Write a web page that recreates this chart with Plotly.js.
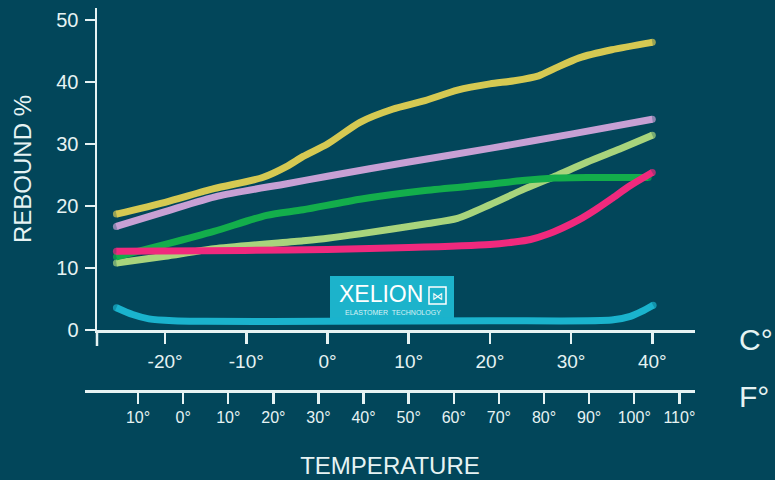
<!DOCTYPE html>
<html><head><meta charset="utf-8">
<script src="https://cdn.plot.ly/plotly-3.0.1.min.js"></script>
<style>html,body{margin:0;padding:0;background:#02465a}#chart{width:775px;height:480px}</style>
</head><body><div id="chart"></div>
<script>
// ---- data (temperature in °C, rebound in %) ----
const lightGreenTemp = [-26, -20, -14, -3, 0, 4, 12, 16, 20, 24, 28, 32, 36, 40];
const lightGreenRebound = [10.8, 11.9, 13.1, 14.4, 14.8, 15.5, 17.1, 18.0, 20.2, 22.6, 24.8, 27.1, 29.2, 31.4];

const greenTemp = [-26, -20, -14, -7.5, -3, 4, 12, 20, 24, 28, 32, 36, 39.5];
const greenRebound = [11.8, 13.8, 15.9, 18.5, 19.4, 21.1, 22.5, 23.5, 24.1, 24.5, 24.6, 24.6, 24.6];

const purpleTemp = [-26, -20, -13.5, -5, 0, 10, 20, 30, 40];
const purpleRebound = [16.7, 19.1, 21.6, 23.6, 24.8, 27.1, 29.3, 31.6, 34.0];

const yellowTemp = [-26, -20, -14, -8, -5, -3, 0, 4, 8, 12, 16, 20, 23, 26, 28, 31, 35, 40];
const yellowRebound = [18.7, 20.6, 22.8, 24.6, 26.4, 28.0, 30.0, 33.5, 35.6, 37.0, 38.7, 39.7, 40.2, 41.0, 42.2, 43.9, 45.2, 46.4];

const pinkTemp = [-26, -15, -5, 0, 10, 20, 23, 25, 27, 29, 31, 33, 35, 37.3, 40];
const pinkRebound = [12.7, 12.8, 12.9, 13.0, 13.3, 13.8, 14.2, 14.6, 15.4, 16.5, 17.8, 19.4, 21.2, 23.3, 25.4];

const cyanTemp = [-26, -24, -22, -19, -15, 0, 20, 35, 37.3, 38.7, 40.1];
const cyanRebound = [3.6, 2.5, 1.8, 1.5, 1.4, 1.4, 1.5, 1.6, 2.2, 3.0, 4.0];

const reboundTicks = [0, 10, 20, 30, 40, 50];
const reboundTickText = ['0', '10', '20', '30', '40', '50'];
const celsiusTicks = [-20, -10, 0, 10, 20, 30, 40];
const celsiusTickText = ['-20°', '-10°', '0°', '10°', '20°', '30°', '40°'];
const fahrenheitTicks = [-10, 0, 10, 20, 30, 40, 50, 60, 70, 80, 90, 100, 110];
const fahrenheitTickText = ['10°', '0°', '10°', '20°', '30°', '40°', '50°', '60°', '70°', '80°', '90°', '100°', '110°'];

// ---- layout geometry ----
const L = 85, R = 80, T = 8, B = 89, WIDTH = 775, HEIGHT = 480;
const W = WIDTH - L - R, H = HEIGHT - T - B;
const px = p => (p - L) / W;
const py = p => (HEIGHT - B - p) / H;

const bg = '#02465a';
const ink = '#e6f3f3';
const FONT = 'Liberation Sans, Arial, Helvetica, sans-serif';

function series(x, y, color) {
  const n = x.length;
  return {
    x: x, y: y, xaxis: 'x', yaxis: 'y', type: 'scatter', mode: 'lines+markers',
    line: {color: color, width: 7, shape: 'spline', smoothing: 0.7},
    marker: {color: color, size: x.map((_, i) => (i === 0 || i === n - 1) ? 7 : 0), line: {width: 0}},
    hoverinfo: 'skip', showlegend: false, cliponaxis: false
  };
}

const data = [
  series(lightGreenTemp, lightGreenRebound, '#a8d47c'),
  series(greenTemp, greenRebound, '#13ae4b'),
  series(purpleTemp, purpleRebound, '#c7a0d4'),
  series(yellowTemp, yellowRebound, '#d5c952'),
  series(pinkTemp, pinkRebound, '#f0297d'),
  series(cyanTemp, cyanRebound, '#1ab3cd'),
  {x: fahrenheitTicks, y: fahrenheitTicks.map(() => null), xaxis: 'x2', yaxis: 'y',
   type: 'scatter', mode: 'markers', marker: {opacity: 0}, hoverinfo: 'skip', showlegend: false}
];

const yBottomPx = 330;
const layout = {
  width: WIDTH, height: HEIGHT,
  margin: {l: L, r: R, t: T, b: B},
  paper_bgcolor: bg, plot_bgcolor: 'rgba(0,0,0,0)',
  font: {family: FONT, color: ink},
  showlegend: false,
  xaxis: {
    domain: [px(97), 1], range: [-28.39, 45.26], anchor: 'y',
    showline: true, linecolor: ink, linewidth: 2.5,
    ticks: 'outside', ticklen: 11, tickwidth: 2.5, tickcolor: ink,
    tickvals: celsiusTicks, ticktext: celsiusTickText,
    tickfont: {size: 19, color: ink}, ticklabelstandoff: 2,
    showgrid: false, zeroline: false, fixedrange: true
  },
  xaxis2: {
    domain: [0, 1], range: [-21.75, 113.47], anchor: 'free', position: 0,
    showline: true, linecolor: ink, linewidth: 2.5,
    ticks: 'outside', ticklen: 11, tickwidth: 2.5, tickcolor: ink,
    tickvals: fahrenheitTicks, ticktext: fahrenheitTickText,
    tickfont: {size: 16, color: ink}, ticklabelstandoff: 0,
    showgrid: false, zeroline: false, fixedrange: true,
    title: {text: 'TEMPERATURE', font: {size: 24, color: ink}, standoff: 32}
  },
  yaxis: {
    domain: [py(yBottomPx), 1], range: [0, 51.94], anchor: 'x',
    showline: true, linecolor: ink, linewidth: 2.5,
    ticks: 'outside', ticklen: 10, tickwidth: 2.5, tickcolor: ink,
    tickvals: reboundTicks, ticktext: reboundTickText,
    tickfont: {size: 20, color: ink}, ticklabelstandoff: 2,
    showgrid: false, zeroline: false, fixedrange: true,
    title: {text: 'REBOUND %', font: {size: 24, color: ink}, standoff: 18}
  },
  shapes: [
    {type: 'line', xref: 'paper', yref: 'paper', x0: px(97), x1: px(97), y0: py(yBottomPx), y1: py(346),
     line: {color: ink, width: 2.5}},
    {type: 'rect', xref: 'paper', yref: 'paper', x0: px(330), x1: px(454), y0: py(318), y1: py(276),
     fillcolor: '#1cb3cb', line: {width: 0}, layer: 'below'},
    {type: 'rect', xref: 'paper', yref: 'paper', x0: px(429), x1: px(446), y0: py(304), y1: py(287),
     fillcolor: 'rgba(0,0,0,0)', line: {color: '#ffffff', width: 1.5}, layer: 'below'}
  ],
  annotations: [
    {xref: 'paper', yref: 'paper', x: px(737), y: py(339), xanchor: 'left', yanchor: 'middle',
     text: 'C°', showarrow: false, font: {size: 30, color: ink}},
    {xref: 'paper', yref: 'paper', x: px(737), y: py(396), xanchor: 'left', yanchor: 'middle',
     text: 'F°', showarrow: false, font: {size: 30, color: ink}},
    {xref: 'paper', yref: 'paper', x: px(381), y: py(294), xanchor: 'center', yanchor: 'middle',
     text: 'XELION', showarrow: false, borderpad: 0, font: {size: 23, color: '#ffffff'}},
    {xref: 'paper', yref: 'paper', x: px(437.5), y: py(295.5), xanchor: 'center', yanchor: 'middle',
     text: '⋈', showarrow: false, borderpad: 0, font: {size: 11, color: '#ffffff'}},
    {xref: 'paper', yref: 'paper', x: px(393), y: py(312.5), xanchor: 'center', yanchor: 'middle',
     text: 'ELASTOMER  TECHNOLOGY', showarrow: false, borderpad: 0, font: {size: 7, color: '#d8f2f6'}}
  ]
};

Plotly.newPlot('chart', data, layout, {displayModeBar: false, staticPlot: true});
</script>
</body></html>
